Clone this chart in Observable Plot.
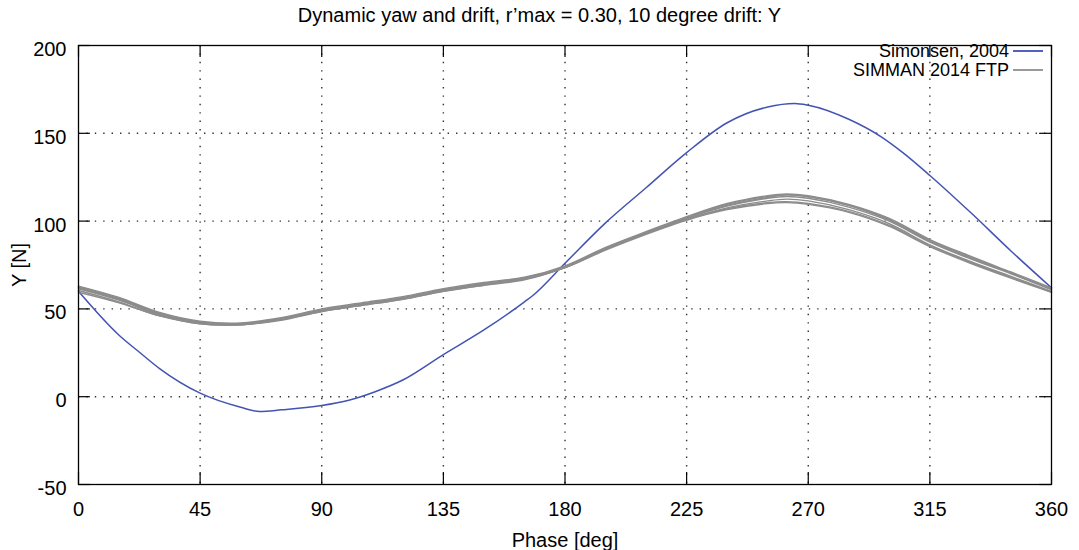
<!DOCTYPE html>
<html>
<head>
<meta charset="utf-8">
<script src="https://cdn.jsdelivr.net/npm/d3@7"></script>
<script src="https://cdn.jsdelivr.net/npm/@observablehq/plot@0.6"></script>
<style>
  html, body { margin: 0; padding: 0; background: #fff; }
  #wrap { position: relative; width: 1079px; height: 550px; font-family: "Liberation Sans", Arial, sans-serif; color: #000; }
  #title { position: absolute; top: 0; left: 0; width: 1079px; height: 30px; line-height: 30px; text-align: center; font-size: 20px; }
  #chart { position: absolute; top: 30px; left: 0; }
  .leg { position: absolute; right: 36px; height: 18px; font-size: 18px; line-height: 18px; display: flex; align-items: center; white-space: nowrap; }
  .leg span.sw { display: inline-block; width: 30px; height: 2px; margin-left: 4px; }
</style>
</head>
<body>
<div id="wrap">
  <div id="title">Dynamic yaw and drift, r’max = 0.30, 10 degree drift: Y</div>
  <div id="chart"></div>
  <div class="leg" style="top:42px;">Simonsen, 2004<span class="sw" style="background:#5261c0;"></span></div>
  <div class="leg" style="top:61px;">SIMMAN 2014 FTP<span class="sw" style="background:#9a9a9a;"></span></div>
</div>
<script>
// ---- data ----
const xTicks = [0, 45, 90, 135, 180, 225, 270, 315, 360];
const yTicks = [-50, 0, 50, 100, 150, 200];

const simonsenPhase = [0, 15, 22, 30, 45, 60, 67, 75, 90, 100, 110, 120, 135, 150, 165, 168, 180, 195, 210, 225, 240, 255, 265, 270, 285, 297, 305, 315, 330, 345, 360];
const simonsenY     = [60, 35, 26, 16, 2, -6, -8.4, -7.5, -5, -2, 3, 9.5, 24, 38, 54, 57.5, 76, 99, 119, 139, 156, 165, 167, 166, 158, 148, 139, 126, 105, 83, 62];

const simmanPhase = [0, 15, 30, 45, 60, 75, 90, 105, 120, 135, 150, 165, 180, 195, 210, 225, 240, 255, 262, 270, 285, 300, 315, 330, 345, 360];
const simmanRun1 = [63, 56.5, 48, 43, 42, 45, 50, 53.5, 57, 61.5, 65, 68, 74.5, 85, 94, 102.5, 110, 114.5, 115.5, 114.5, 109.5, 101.5, 89.5, 80, 71, 62];
const simmanRun2 = [62.5, 56, 47.5, 42.5, 41.5, 44.5, 49.5, 53, 56.5, 61, 64.5, 67.5, 74, 84.5, 93.5, 102, 109, 113.5, 115, 114, 109, 101, 89, 79.5, 70.5, 61.5];
const simmanRun3 = [62, 55.5, 47, 42, 41, 44, 49, 52.5, 56, 60.5, 64, 67, 73.5, 84, 93, 101.5, 108.5, 113, 114, 113, 108, 100, 88, 78.5, 70, 61];
const simmanRun4 = [61.5, 55, 46.5, 41.5, 41, 44, 48.5, 52, 55.5, 60, 63.5, 67, 73.5, 84, 93, 101, 107.5, 111.5, 112.5, 111.5, 106.5, 98.5, 86.5, 77, 68.5, 60];
const simmanRun5 = [60.5, 54, 46, 41.5, 41, 43.5, 48.5, 52, 55.5, 60, 63.5, 66.5, 73.5, 83.5, 92.5, 100.5, 106.5, 110, 110.5, 109.5, 105, 97, 85.5, 76, 67.5, 59.5];
const simmanRun6 = [59.5, 53.5, 46, 42, 41.5, 44, 49, 52.5, 56, 60.5, 64, 67, 74, 84, 93, 101, 107, 110.5, 111, 110, 105.5, 97.5, 86, 76.5, 68, 59.5];
const simmanRun7 = [62, 55.5, 47.5, 42.5, 41.5, 44.5, 49, 52.5, 56, 60.5, 64, 67.5, 74, 84.5, 93.5, 102, 109.5, 114, 115, 114, 109, 100.5, 88.5, 79, 70.5, 61];

// ---- build tables ----
const simonsen = simonsenPhase.map((p, i) => ({phase: p, y: simonsenY[i]}));
const runs = [simmanRun1, simmanRun2, simmanRun3, simmanRun4, simmanRun5, simmanRun6, simmanRun7];
const simman = runs.flatMap((r, k) => simmanPhase.map((p, i) => ({run: k, phase: p, y: r[i]})));

const innerX = xTicks.filter(d => d !== 0 && d !== 360);
const innerY = yTicks.filter(d => d !== -50 && d !== 200);
const xTickLen = 4.4;   // degrees (inward tick on left/right edges)
const yTickLen = 6.8;   // N (inward tick on top/bottom edges)

const chart = Plot.plot({
  width: 1079,
  height: 520,
  marginTop: 15,
  marginLeft: 78,
  marginRight: 28,
  marginBottom: 66,
  style: {fontFamily: "Liberation Sans, Arial, sans-serif", fontSize: "20px", background: "#fff", color: "#000"},
  x: {domain: [0, 360]},
  y: {domain: [-50, 200]},
  marks: [
    // dotted grid
    Plot.ruleY(innerY, {y: d => d, stroke: "#333", strokeWidth: 1.4, strokeDasharray: "1.4,7"}),
    Plot.ruleX(innerX, {x: d => d, stroke: "#333", strokeWidth: 1.4, strokeDasharray: "1.4,7"}),
    // inward ticks (left/right)
    Plot.ruleY(yTicks, {y: d => d, x1: 0, x2: xTickLen, stroke: "#000", strokeWidth: 1.2}),
    Plot.ruleY(yTicks, {y: d => d, x1: 360 - xTickLen, x2: 360, stroke: "#000", strokeWidth: 1.2}),
    // inward ticks (bottom/top)
    Plot.ruleX(xTicks, {x: d => d, y1: -50, y2: -50 + yTickLen, stroke: "#000", strokeWidth: 1.2}),
    Plot.ruleX(xTicks, {x: d => d, y1: 200 - yTickLen, y2: 200, stroke: "#000", strokeWidth: 1.2}),
    // data
    Plot.line(simonsen, {x: "phase", y: "y", stroke: "#4353b3", strokeWidth: 1.5, curve: "monotone-x"}),
    Plot.line(simman, {x: "phase", y: "y", z: "run", stroke: "#8c8c8c", strokeWidth: 1.4, curve: "catmull-rom"}),
    // frame
    Plot.frame({stroke: "#000", strokeWidth: 1.3}),
    // axes
    Plot.axisX(xTicks, {tickSize: 0, tickPadding: 17, fontSize: 20, tickFormat: d => String(d), label: "Phase [deg]", labelAnchor: "center", labelOffset: 62, labelArrow: "none"}),
    Plot.axisY(yTicks, {tickSize: 0, tickPadding: 12, fontSize: 20, dy: 4, tickFormat: d => String(d), label: "Y [N]", labelAnchor: "center", labelOffset: 67, labelArrow: "none"})
  ]
});
document.getElementById("chart").appendChild(chart);
</script>
</body>
</html>
